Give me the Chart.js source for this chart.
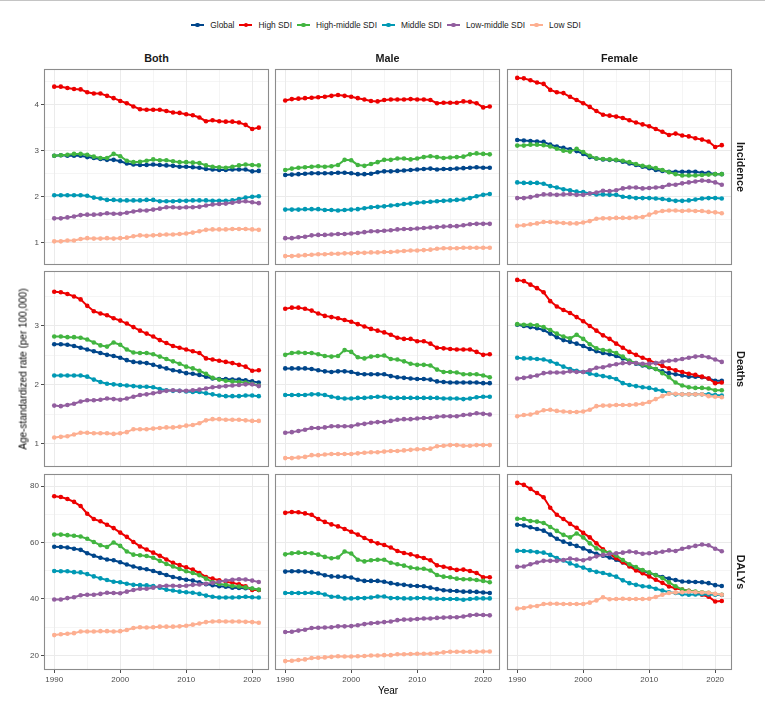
<!DOCTYPE html>
<html>
<head>
<meta charset="utf-8">
<script src="https://cdn.jsdelivr.net/npm/chart.js@4.4.1/dist/chart.umd.min.js"></script>
<style>
  html, body { margin: 0; padding: 0; background: #fff; }
  body { width: 765px; height: 702px; position: relative; overflow: hidden; font-family: "Liberation Sans", Arial, sans-serif; border-top: 1px solid #c4c4c4; box-sizing: border-box; }
  .panel { position: absolute; }
  .txt { position: absolute; white-space: nowrap; }
  .strip { font-weight: bold; font-size: 10.8px; color: #1a1a1a; }
  #legend { position: absolute; top: 18px; left: 0; width: 777px; height: 12px; display: flex; justify-content: center; align-items: center; font-size: 8.4px; color: #1a1a1a; }
  #legend .item { display: flex; align-items: center; margin-right: 5px; }
  #legend .key { position: relative; width: 13px; height: 12px; margin-right: 6px; }
  #legend .key i { position: absolute; left: 0; top: 5px; width: 13px; height: 2px; }
  #legend .key b { position: absolute; left: 4.2px; top: 3.7px; width: 4.6px; height: 4.6px; border-radius: 50%; }
</style>
</head>
<body>
<div id="legend"></div>
<script>
const years = [1990, 1991, 1992, 1993, 1994, 1995, 1996, 1997, 1998, 1999, 2000, 2001, 2002, 2003, 2004, 2005,
  2006, 2007, 2008, 2009, 2010, 2011, 2012, 2013, 2014, 2015, 2016, 2017, 2018, 2019, 2020, 2021];
const regions = ['Global', 'High SDI', 'High-middle SDI', 'Middle SDI', 'Low-middle SDI', 'Low SDI'];
const sexes = ['Both', 'Male', 'Female'];
const measures = ['Incidence', 'Deaths', 'DALYs'];
const xTickLabels = [1990, 2000, 2010, 2020];
const incidenceTicks = [1, 2, 3, 4];
const deathsTicks = [1, 2, 3];
const dalysTicks = [20, 40, 60, 80];

// rows follow the order of regions
const incidenceBoth = [
  [2.89, 2.90, 2.89, 2.89, 2.89, 2.86, 2.84, 2.82, 2.80, 2.80, 2.77, 2.72, 2.70, 2.69, 2.69, 2.70, 2.69, 2.68, 2.67, 2.65, 2.65, 2.64, 2.63, 2.60, 2.59, 2.58, 2.58, 2.59, 2.59, 2.59, 2.55, 2.56],
  [4.39, 4.39, 4.36, 4.34, 4.33, 4.27, 4.24, 4.24, 4.19, 4.14, 4.08, 4.03, 3.96, 3.90, 3.89, 3.89, 3.89, 3.86, 3.83, 3.82, 3.79, 3.77, 3.72, 3.64, 3.66, 3.64, 3.63, 3.63, 3.61, 3.56, 3.47, 3.50],
  [2.89, 2.90, 2.91, 2.93, 2.93, 2.91, 2.87, 2.84, 2.84, 2.93, 2.88, 2.78, 2.75, 2.76, 2.78, 2.81, 2.79, 2.79, 2.77, 2.75, 2.75, 2.74, 2.73, 2.68, 2.65, 2.64, 2.63, 2.65, 2.68, 2.70, 2.69, 2.68],
  [2.03, 2.03, 2.03, 2.03, 2.03, 2.02, 1.98, 1.96, 1.93, 1.93, 1.92, 1.92, 1.92, 1.92, 1.93, 1.93, 1.90, 1.90, 1.90, 1.91, 1.91, 1.92, 1.92, 1.92, 1.91, 1.91, 1.91, 1.92, 1.95, 1.98, 2.00, 2.01],
  [1.53, 1.53, 1.55, 1.57, 1.60, 1.61, 1.61, 1.62, 1.64, 1.63, 1.63, 1.65, 1.68, 1.70, 1.70, 1.72, 1.74, 1.77, 1.77, 1.76, 1.77, 1.77, 1.78, 1.81, 1.83, 1.84, 1.85, 1.87, 1.89, 1.90, 1.88, 1.86],
  [1.03, 1.03, 1.05, 1.05, 1.08, 1.10, 1.09, 1.09, 1.10, 1.09, 1.10, 1.11, 1.14, 1.16, 1.15, 1.16, 1.17, 1.18, 1.18, 1.19, 1.20, 1.22, 1.25, 1.28, 1.29, 1.29, 1.29, 1.30, 1.30, 1.30, 1.29, 1.28]
];
const incidenceMale = [
  [2.47, 2.48, 2.49, 2.50, 2.51, 2.51, 2.51, 2.51, 2.52, 2.52, 2.51, 2.49, 2.49, 2.50, 2.53, 2.55, 2.55, 2.56, 2.57, 2.58, 2.59, 2.60, 2.61, 2.59, 2.60, 2.60, 2.61, 2.62, 2.63, 2.64, 2.63, 2.63],
  [4.09, 4.12, 4.13, 4.14, 4.15, 4.16, 4.17, 4.19, 4.21, 4.19, 4.17, 4.14, 4.11, 4.08, 4.07, 4.10, 4.11, 4.11, 4.11, 4.12, 4.11, 4.11, 4.10, 4.03, 4.04, 4.04, 4.04, 4.07, 4.06, 4.03, 3.94, 3.96],
  [2.58, 2.61, 2.63, 2.64, 2.65, 2.66, 2.65, 2.66, 2.69, 2.80, 2.79, 2.69, 2.67, 2.71, 2.75, 2.80, 2.80, 2.83, 2.83, 2.81, 2.83, 2.86, 2.88, 2.86, 2.84, 2.85, 2.86, 2.87, 2.92, 2.94, 2.93, 2.92],
  [1.72, 1.72, 1.72, 1.73, 1.73, 1.73, 1.71, 1.71, 1.70, 1.71, 1.72, 1.73, 1.75, 1.77, 1.78, 1.79, 1.81, 1.82, 1.84, 1.85, 1.87, 1.88, 1.89, 1.90, 1.91, 1.92, 1.93, 1.94, 1.97, 2.01, 2.04, 2.06],
  [1.10, 1.10, 1.12, 1.13, 1.16, 1.17, 1.17, 1.18, 1.19, 1.19, 1.20, 1.21, 1.23, 1.25, 1.25, 1.26, 1.27, 1.29, 1.30, 1.30, 1.31, 1.32, 1.33, 1.34, 1.35, 1.36, 1.36, 1.38, 1.40, 1.41, 1.41, 1.41],
  [0.71, 0.71, 0.72, 0.73, 0.74, 0.75, 0.75, 0.76, 0.76, 0.77, 0.77, 0.78, 0.78, 0.79, 0.79, 0.80, 0.80, 0.81, 0.82, 0.83, 0.83, 0.84, 0.85, 0.87, 0.88, 0.88, 0.88, 0.89, 0.89, 0.89, 0.89, 0.89]
];
const incidenceFemale = [
  [3.23, 3.22, 3.21, 3.20, 3.19, 3.13, 3.09, 3.06, 3.03, 2.99, 2.93, 2.86, 2.83, 2.81, 2.80, 2.79, 2.76, 2.72, 2.69, 2.65, 2.62, 2.58, 2.56, 2.54, 2.54, 2.54, 2.54, 2.54, 2.52, 2.52, 2.49, 2.49],
  [4.58, 4.57, 4.53, 4.48, 4.45, 4.32, 4.27, 4.25, 4.17, 4.10, 4.03, 3.95, 3.86, 3.78, 3.76, 3.74, 3.71, 3.66, 3.61, 3.57, 3.53, 3.47, 3.41, 3.34, 3.37, 3.33, 3.31, 3.27, 3.24, 3.20, 3.08, 3.12],
  [3.11, 3.11, 3.13, 3.13, 3.12, 3.09, 3.04, 3.00, 2.98, 3.04, 2.97, 2.89, 2.83, 2.82, 2.81, 2.80, 2.78, 2.75, 2.71, 2.67, 2.65, 2.62, 2.58, 2.53, 2.49, 2.46, 2.46, 2.46, 2.47, 2.48, 2.49, 2.49],
  [2.31, 2.30, 2.30, 2.30, 2.28, 2.23, 2.20, 2.16, 2.14, 2.11, 2.10, 2.07, 2.05, 2.05, 2.04, 2.04, 2.00, 1.99, 1.97, 1.97, 1.97, 1.96, 1.95, 1.93, 1.91, 1.91, 1.92, 1.94, 1.96, 1.97, 1.97, 1.96],
  [1.97, 1.97, 1.99, 2.02, 2.05, 2.05, 2.04, 2.05, 2.06, 2.04, 2.04, 2.07, 2.09, 2.13, 2.12, 2.14, 2.18, 2.20, 2.20, 2.18, 2.19, 2.20, 2.21, 2.26, 2.26, 2.29, 2.31, 2.33, 2.35, 2.34, 2.31, 2.26],
  [1.37, 1.38, 1.40, 1.42, 1.45, 1.45, 1.44, 1.43, 1.42, 1.42, 1.44, 1.47, 1.52, 1.53, 1.53, 1.54, 1.54, 1.54, 1.55, 1.56, 1.61, 1.66, 1.69, 1.70, 1.70, 1.69, 1.70, 1.69, 1.69, 1.67, 1.66, 1.64]
];
const deathsBoth = [
  [2.69, 2.69, 2.68, 2.66, 2.63, 2.60, 2.57, 2.54, 2.51, 2.49, 2.46, 2.42, 2.39, 2.38, 2.37, 2.34, 2.31, 2.28, 2.25, 2.23, 2.20, 2.19, 2.17, 2.14, 2.11, 2.10, 2.10, 2.09, 2.09, 2.08, 2.06, 2.04],
  [3.58, 3.57, 3.54, 3.50, 3.45, 3.34, 3.25, 3.21, 3.18, 3.13, 3.09, 3.04, 2.98, 2.92, 2.87, 2.82, 2.76, 2.71, 2.66, 2.63, 2.60, 2.57, 2.54, 2.45, 2.43, 2.41, 2.39, 2.37, 2.34, 2.31, 2.24, 2.25],
  [2.82, 2.82, 2.81, 2.81, 2.80, 2.77, 2.72, 2.67, 2.65, 2.72, 2.68, 2.60, 2.55, 2.54, 2.54, 2.52, 2.48, 2.44, 2.40, 2.36, 2.31, 2.28, 2.24, 2.19, 2.12, 2.09, 2.07, 2.06, 2.05, 2.04, 2.02, 1.99],
  [2.16, 2.16, 2.16, 2.16, 2.16, 2.14, 2.09, 2.05, 2.02, 2.01, 2.00, 1.99, 1.98, 1.97, 1.97, 1.96, 1.93, 1.91, 1.90, 1.90, 1.89, 1.88, 1.88, 1.86, 1.84, 1.82, 1.81, 1.81, 1.81, 1.82, 1.82, 1.81],
  [1.65, 1.64, 1.66, 1.68, 1.72, 1.74, 1.74, 1.75, 1.77, 1.76, 1.75, 1.77, 1.80, 1.83, 1.84, 1.86, 1.88, 1.90, 1.91, 1.90, 1.90, 1.91, 1.92, 1.94, 1.96, 1.97, 1.98, 1.99, 2.00, 2.01, 2.01, 1.98],
  [1.11, 1.12, 1.13, 1.16, 1.19, 1.19, 1.18, 1.18, 1.18, 1.17, 1.18, 1.20, 1.25, 1.25, 1.25, 1.26, 1.27, 1.28, 1.28, 1.29, 1.31, 1.32, 1.35, 1.40, 1.42, 1.42, 1.41, 1.41, 1.41, 1.40, 1.39, 1.39]
];
const deathsMale = [
  [2.28, 2.28, 2.28, 2.28, 2.27, 2.25, 2.23, 2.22, 2.23, 2.23, 2.22, 2.19, 2.18, 2.18, 2.18, 2.18, 2.15, 2.13, 2.12, 2.11, 2.10, 2.10, 2.09, 2.06, 2.05, 2.04, 2.04, 2.04, 2.04, 2.04, 2.03, 2.03],
  [3.29, 3.31, 3.31, 3.29, 3.26, 3.21, 3.17, 3.15, 3.13, 3.10, 3.07, 3.03, 2.99, 2.95, 2.92, 2.89, 2.85, 2.80, 2.78, 2.78, 2.74, 2.74, 2.70, 2.63, 2.62, 2.61, 2.60, 2.60, 2.60, 2.56, 2.51, 2.52],
  [2.51, 2.54, 2.55, 2.54, 2.54, 2.52, 2.49, 2.48, 2.49, 2.59, 2.56, 2.47, 2.45, 2.48, 2.49, 2.50, 2.44, 2.43, 2.40, 2.36, 2.34, 2.34, 2.33, 2.26, 2.22, 2.22, 2.21, 2.18, 2.18, 2.18, 2.16, 2.13],
  [1.83, 1.83, 1.83, 1.83, 1.84, 1.84, 1.83, 1.80, 1.78, 1.77, 1.77, 1.78, 1.78, 1.79, 1.80, 1.80, 1.78, 1.78, 1.78, 1.78, 1.78, 1.78, 1.78, 1.78, 1.77, 1.77, 1.77, 1.76, 1.77, 1.79, 1.80, 1.80],
  [1.19, 1.20, 1.22, 1.24, 1.27, 1.27, 1.28, 1.30, 1.30, 1.30, 1.30, 1.33, 1.34, 1.36, 1.37, 1.37, 1.39, 1.41, 1.42, 1.42, 1.43, 1.44, 1.44, 1.46, 1.47, 1.47, 1.47, 1.49, 1.50, 1.52, 1.51, 1.50],
  [0.76, 0.76, 0.77, 0.78, 0.81, 0.81, 0.82, 0.83, 0.83, 0.83, 0.83, 0.84, 0.85, 0.86, 0.86, 0.87, 0.88, 0.88, 0.89, 0.90, 0.91, 0.91, 0.92, 0.96, 0.97, 0.98, 0.98, 0.97, 0.97, 0.98, 0.98, 0.98]
];
const deathsFemale = [
  [3.02, 3.00, 2.98, 2.96, 2.93, 2.87, 2.81, 2.76, 2.73, 2.70, 2.66, 2.61, 2.57, 2.54, 2.52, 2.49, 2.45, 2.41, 2.36, 2.33, 2.30, 2.27, 2.23, 2.20, 2.18, 2.16, 2.14, 2.14, 2.13, 2.11, 2.07, 2.07],
  [3.78, 3.76, 3.70, 3.64, 3.57, 3.42, 3.33, 3.27, 3.22, 3.15, 3.08, 3.00, 2.92, 2.84, 2.78, 2.70, 2.63, 2.56, 2.51, 2.46, 2.42, 2.37, 2.32, 2.28, 2.25, 2.22, 2.19, 2.17, 2.14, 2.11, 2.03, 2.04],
  [3.03, 3.02, 3.02, 3.01, 2.98, 2.93, 2.87, 2.82, 2.79, 2.85, 2.78, 2.69, 2.62, 2.59, 2.58, 2.54, 2.48, 2.41, 2.37, 2.34, 2.31, 2.27, 2.20, 2.13, 2.04, 1.99, 1.96, 1.95, 1.95, 1.94, 1.91, 1.91],
  [2.46, 2.45, 2.45, 2.44, 2.43, 2.40, 2.36, 2.31, 2.27, 2.24, 2.22, 2.19, 2.17, 2.15, 2.13, 2.10, 2.03, 2.00, 1.98, 1.96, 1.95, 1.92, 1.90, 1.86, 1.84, 1.84, 1.84, 1.84, 1.84, 1.84, 1.83, 1.82],
  [2.11, 2.12, 2.14, 2.16, 2.20, 2.21, 2.21, 2.21, 2.23, 2.22, 2.22, 2.25, 2.29, 2.30, 2.33, 2.35, 2.37, 2.37, 2.37, 2.36, 2.36, 2.37, 2.39, 2.41, 2.42, 2.44, 2.46, 2.48, 2.49, 2.47, 2.43, 2.39],
  [1.47, 1.49, 1.50, 1.53, 1.57, 1.58, 1.56, 1.55, 1.54, 1.54, 1.55, 1.58, 1.64, 1.65, 1.65, 1.66, 1.66, 1.66, 1.67, 1.68, 1.71, 1.76, 1.81, 1.85, 1.85, 1.84, 1.84, 1.84, 1.84, 1.81, 1.80, 1.79]
];
const dalysBoth = [
  [58.5, 58.4, 58.2, 57.8, 57.4, 56.2, 55.3, 54.6, 54.0, 53.7, 53.0, 52.2, 51.5, 50.9, 50.5, 49.9, 49.2, 48.5, 47.8, 47.3, 46.8, 46.5, 45.9, 45.2, 44.9, 44.5, 44.3, 44.0, 43.9, 43.8, 43.6, 43.2],
  [76.4, 76.1, 75.4, 74.4, 72.9, 70.2, 68.3, 67.5, 66.3, 65.1, 63.5, 62.0, 60.2, 58.6, 57.5, 56.4, 55.3, 54.0, 52.8, 52.0, 51.2, 50.4, 49.2, 47.8, 47.2, 46.6, 46.1, 45.7, 45.2, 44.5, 43.2, 43.2],
  [62.8, 62.8, 62.6, 62.4, 62.1, 61.3, 60.2, 59.0, 58.4, 60.0, 58.8, 56.8, 55.7, 55.5, 55.2, 54.6, 53.5, 52.4, 51.5, 50.6, 49.8, 49.2, 48.4, 47.2, 46.0, 45.3, 45.0, 44.6, 44.4, 44.1, 43.7, 43.3],
  [49.9, 49.8, 49.8, 49.5, 49.4, 48.8, 48.0, 47.3, 46.7, 46.1, 45.9, 45.4, 45.0, 44.9, 44.8, 44.6, 44.0, 43.3, 43.0, 42.6, 42.4, 42.2, 41.8, 41.2, 40.8, 40.5, 40.5, 40.5, 40.6, 40.8, 40.6, 40.5],
  [39.8, 39.8, 40.3, 40.6, 41.3, 41.5, 41.5, 41.8, 42.2, 42.1, 42.0, 42.6, 43.2, 43.6, 43.6, 44.0, 44.5, 44.7, 44.7, 44.6, 44.7, 45.0, 45.1, 45.4, 45.7, 46.1, 46.5, 46.8, 47.0, 46.9, 46.5, 46.0],
  [27.2, 27.5, 27.7, 27.9, 28.5, 28.5, 28.5, 28.6, 28.6, 28.5, 28.6, 29.0, 29.7, 30.0, 29.9, 30.0, 30.2, 30.2, 30.2, 30.3, 30.5, 30.9, 31.3, 31.8, 32.0, 32.1, 32.0, 32.0, 32.0, 31.9, 31.8, 31.6]
];
const dalysMale = [
  [49.7, 49.8, 49.8, 49.7, 49.5, 49.0, 48.4, 48.0, 47.9, 47.9, 47.6, 46.8, 46.4, 46.4, 46.4, 46.1, 45.6, 45.2, 45.0, 44.7, 44.6, 44.5, 44.0, 43.5, 43.1, 42.9, 42.8, 42.6, 42.6, 42.5, 42.3, 42.1],
  [70.5, 70.8, 70.7, 70.3, 69.8, 68.3, 67.3, 66.4, 65.7, 64.8, 63.8, 62.8, 61.6, 60.5, 59.7, 59.1, 58.2, 57.0, 56.3, 55.8, 55.1, 54.5, 53.7, 51.9, 51.4, 50.9, 50.3, 50.4, 49.9, 49.2, 47.7, 47.7],
  [55.8, 56.2, 56.4, 56.3, 56.2, 55.7, 54.9, 54.4, 54.7, 56.8, 56.1, 53.9, 53.3, 53.7, 53.9, 53.9, 52.8, 52.3, 51.8, 51.1, 50.8, 50.7, 50.1, 48.5, 47.9, 47.7, 47.2, 47.0, 47.0, 46.7, 46.4, 45.9],
  [42.1, 42.1, 42.1, 42.1, 42.2, 42.1, 41.6, 40.8, 40.8, 40.2, 40.2, 40.3, 40.3, 40.5, 40.9, 40.9, 40.3, 40.3, 40.2, 40.2, 40.3, 40.3, 40.2, 40.1, 40.0, 40.0, 40.0, 39.7, 40.0, 40.2, 40.2, 40.2],
  [28.3, 28.4, 28.8, 29.1, 29.7, 29.8, 29.9, 30.0, 30.3, 30.3, 30.4, 30.7, 31.1, 31.4, 31.6, 31.8, 32.0, 32.5, 32.7, 32.7, 32.9, 33.1, 33.1, 33.3, 33.4, 33.5, 33.5, 33.8, 34.2, 34.4, 34.3, 34.2],
  [18.0, 18.1, 18.4, 18.6, 19.1, 19.2, 19.3, 19.5, 19.7, 19.6, 19.6, 19.7, 19.8, 20.0, 20.0, 20.1, 20.1, 20.4, 20.4, 20.5, 20.6, 20.6, 20.6, 20.8, 21.1, 21.3, 21.3, 21.3, 21.3, 21.3, 21.4, 21.4]
];
const dalysFemale = [
  [66.3, 66.0, 65.4, 64.8, 64.2, 62.8, 61.3, 60.3, 59.5, 58.8, 57.9, 56.9, 56.0, 55.3, 54.7, 53.9, 52.9, 51.9, 50.8, 50.0, 49.2, 48.5, 47.8, 47.2, 46.7, 46.2, 46.1, 46.0, 45.9, 45.6, 44.9, 44.6],
  [81.1, 80.4, 79.0, 77.5, 76.0, 72.3, 69.8, 68.3, 66.6, 65.2, 63.4, 61.8, 59.7, 57.6, 56.0, 54.4, 53.0, 51.5, 50.1, 49.1, 48.0, 46.8, 45.7, 44.4, 43.8, 43.3, 42.9, 42.4, 41.5, 40.8, 39.1, 39.3],
  [68.4, 68.3, 67.6, 67.4, 66.9, 65.5, 64.1, 62.7, 61.8, 63.2, 61.8, 59.7, 57.9, 57.0, 56.4, 55.4, 53.8, 52.3, 51.3, 50.2, 49.4, 48.4, 47.4, 45.9, 44.5, 43.3, 42.9, 42.6, 42.4, 42.2, 41.7, 41.5],
  [57.1, 57.0, 56.9, 56.6, 56.4, 55.6, 54.5, 53.6, 52.6, 51.8, 51.1, 50.2, 49.6, 49.2, 48.6, 47.9, 46.6, 45.6, 45.0, 44.5, 44.3, 43.6, 43.0, 42.4, 42.1, 41.7, 41.5, 41.6, 41.7, 41.6, 41.5, 41.4],
  [51.4, 51.5, 52.3, 52.9, 53.5, 53.5, 53.5, 53.8, 54.3, 54.0, 53.7, 54.3, 55.1, 55.6, 55.9, 56.2, 56.4, 56.8, 56.5, 56.0, 56.2, 56.4, 56.7, 57.2, 57.0, 57.8, 58.3, 58.8, 59.3, 59.0, 57.8, 56.9],
  [36.6, 36.8, 37.3, 37.5, 38.2, 38.3, 38.3, 38.2, 38.2, 38.2, 38.2, 38.7, 39.5, 40.6, 39.9, 40.0, 40.1, 40.0, 40.0, 40.0, 40.1, 40.7, 41.5, 42.1, 42.3, 42.4, 42.6, 42.4, 42.3, 42.2, 41.8, 41.5]
];

const colors = ['#00468B', '#ED0000', '#42B540', '#0099B4', '#925E9F', '#FDAF91'];
const panels = [
  [incidenceBoth, incidenceMale, incidenceFemale],
  [deathsBoth, deathsMale, deathsFemale],
  [dalysBoth, dalysMale, dalysFemale]
];
const rowTicks = [incidenceTicks, deathsTicks, dalysTicks];

// page geometry (panel boxes)
const colLeft = [44, 275, 507];
const rowTop = [68, 270, 473];
const PW = 225, PH = 196;
const AX = 30, XH = 18, PAD = 4;

Chart.defaults.font.family = '"Liberation Sans", Arial, sans-serif';

// ggplot-style 5% expansion of a continuous range
function expand(lo, hi) {
  const d = (hi - lo) * 0.05;
  return [lo - d, hi + d];
}
// majors plus the half-way minor breaks that fall inside the range
function withMinor(major, lo, hi) {
  const step = major[1] - major[0];
  const out = [];
  for (let v = major[0] - step / 2; v <= major[major.length - 1] + step / 2 + 1e-9; v += step / 2) {
    const r = Math.round(v * 1000) / 1000;
    if (r > lo && r < hi) out.push(r);
  }
  return out;
}

const frame = {
  id: 'frame',
  afterDatasetsDraw(chart) {
    const a = chart.chartArea, c = chart.ctx;
    c.save();
    c.strokeStyle = '#8c8c8c';
    c.lineWidth = 1.1;
    c.strokeRect(a.left + 0.5, a.top + 0.5, a.right - a.left - 1, a.bottom - a.top - 1);
    c.restore();
  }
};

const [xMin, xMax] = expand(years[0], years[years.length - 1]);
const xAll = withMinor(xTickLabels, xMin, xMax);

function gridOpts(major, showTicks) {
  return {
    color: '#EBEBEB',
    lineWidth: ctx => (ctx.tick && major.includes(ctx.tick.value)) ? 1 : 0.5,
    drawTicks: showTicks,
    tickLength: 3,
    tickColor: ctx => (ctx.tick && major.includes(ctx.tick.value)) ? '#4d4d4d' : 'rgba(0,0,0,0)',
    tickWidth: 1
  };
}

panels.forEach((row, r) => {
  const all = row.flat(2);
  const [yMin, yMax] = expand(Math.min(...all), Math.max(...all));
  const yMajor = rowTicks[r];
  const yAll = withMinor(yMajor, yMin, yMax);
  row.forEach((values, c) => {
    const box = document.createElement('div');
    box.className = 'panel';
    box.style.left = (colLeft[c] - AX) + 'px';
    box.style.top = (rowTop[r] - PAD) + 'px';
    box.style.width = (PW + AX + PAD) + 'px';
    box.style.height = (PH + PAD + XH) + 'px';
    const canvas = document.createElement('canvas');
    box.appendChild(canvas);
    document.body.appendChild(box);
    const left = c === 0, bottom = r === panels.length - 1;

    new Chart(canvas, {
      type: 'line',
      data: {
        datasets: regions.map((name, i) => ({
          label: name,
          data: years.map((yr, k) => ({ x: yr, y: values[i][k] })),
          borderColor: colors[i],
          backgroundColor: colors[i],
          pointBackgroundColor: colors[i],
          pointBorderWidth: 0,
          pointRadius: 2.3,
          borderWidth: 2,
          tension: 0,
          order: regions.length - i
        }))
      },
      options: {
        responsive: true,
        maintainAspectRatio: false,
        animation: false,
        events: [],
        layout: { padding: { top: PAD, right: PAD, left: 0, bottom: 0 } },
        plugins: { legend: { display: false }, tooltip: { enabled: false } },
        scales: {
          x: {
            type: 'linear',
            min: xMin,
            max: xMax,
            afterBuildTicks: s => { s.ticks = xAll.map(v => ({ value: v })); },
            afterFit: s => { s.height = XH; s.paddingLeft = 0; s.paddingRight = 0; },
            ticks: {
              display: bottom,
              autoSkip: false,
              maxRotation: 0,
              padding: 1.5,
              color: '#4D4D4D',
              font: { size: 8 },
              callback: v => xTickLabels.includes(v) ? String(v) : ''
            },
            grid: gridOpts(xTickLabels, bottom),
            border: { display: false }
          },
          y: {
            type: 'linear',
            min: yMin,
            max: yMax,
            afterBuildTicks: s => { s.ticks = yAll.map(v => ({ value: v })); },
            afterFit: s => { s.width = AX; s.paddingTop = 0; s.paddingBottom = 0; },
            ticks: {
              display: left,
              autoSkip: false,
              padding: 2,
              color: '#4D4D4D',
              font: { size: 8 },
              callback: v => yMajor.includes(v) ? String(v) : ''
            },
            grid: gridOpts(yMajor, left),
            border: { display: false }
          }
        }
      },
      plugins: [frame]
    });
  });
});

// facet strips
sexes.forEach((s, c) => {
  const d = document.createElement('div');
  d.className = 'txt strip';
  d.textContent = s;
  d.style.left = (colLeft[c] + PW / 2) + 'px';
  d.style.top = '57px';
  d.style.transform = 'translate(-50%, -50%)';
  document.body.appendChild(d);
});
measures.forEach((m, r) => {
  const d = document.createElement('div');
  d.className = 'txt strip';
  d.textContent = m;
  d.style.left = '741px';
  d.style.top = (rowTop[r] + PH / 2) + 'px';
  d.style.transform = 'translate(-50%, -50%) rotate(90deg)';
  document.body.appendChild(d);
});

// axis titles
const yTitle = document.createElement('div');
yTitle.className = 'txt';
yTitle.textContent = 'Age-standardized rate (per 100,000)';
yTitle.style.cssText += 'left:23px;top:368px;font-size:10px;color:#000;transform:translate(-50%,-50%) rotate(-90deg);';
document.body.appendChild(yTitle);
const xTitle = document.createElement('div');
xTitle.className = 'txt';
xTitle.textContent = 'Year';
xTitle.style.cssText += 'left:388px;top:689px;font-size:10px;color:#000;transform:translate(-50%,-50%);';
document.body.appendChild(xTitle);

// legend
const legend = document.getElementById('legend');
regions.forEach((name, i) => {
  const item = document.createElement('div');
  item.className = 'item';
  item.innerHTML = '<span class="key"><i style="background:' + colors[i] + '"></i><b style="background:' + colors[i] + '"></b></span>';
  const t = document.createElement('span');
  t.textContent = name;
  item.appendChild(t);
  legend.appendChild(item);
});
</script>
</body>
</html>
